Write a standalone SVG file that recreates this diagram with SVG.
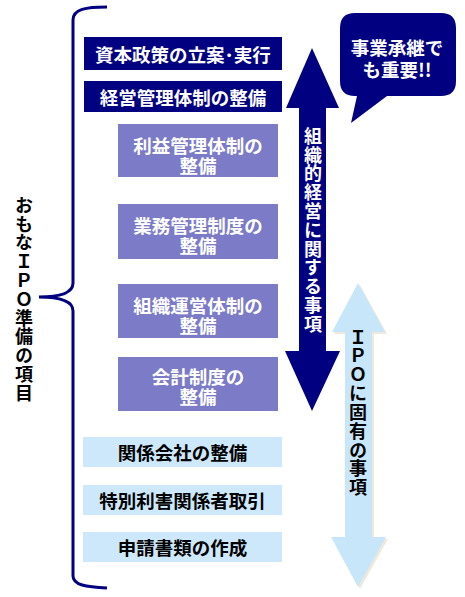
<svg xmlns="http://www.w3.org/2000/svg" width="465" height="597" viewBox="0 0 465 597">
<style>
.t{font-family:"Noto Sans CJK JP","Noto Sans CJK SC",sans-serif;font-weight:bold;font-size:18.5px;text-anchor:middle;dominant-baseline:central}
.w{fill:#ffffff}
.k{fill:#000000}
.navy{fill:#000080}
.purple{fill:#7b7bc8}
.light{fill:#cce8fa}
.v{font-family:"Noto Sans CJK JP","Noto Sans CJK SC",sans-serif;font-weight:bold;font-size:18px;writing-mode:vertical-rl;text-anchor:start}
</style>
<rect width="465" height="597" fill="#ffffff"/>
<g id="bracket">
<path d="M107,7 C86,7 73,9 73,20 L73,283 C73,293 60,297 39,297 C60,297 73,301 73,311 L73,576 C73,585 86,587 107,588" fill="none" stroke="#000080" stroke-width="3"/>
<text class="v k" x="24" y="196" letter-spacing="0.8">おもなＩＰＯ準備の項目</text>
</g>
<g id="connectors">
<g id="arrow-org">
<polygon class="navy" points="312,48 339,108 326,108 326,351 340,351 312,411 285,351 299,351 299,108 286,108"/>
<text class="v w" x="313" y="127" font-size="18.5" letter-spacing="0.8">組織的経営に関する事項</text>
</g>
<g id="arrow-ipo">
<polygon points="360,285 387,334 374,334 374,539 388,539 360,589 333,539 347,539 347,334 334,334" fill="#efe9dc"/>
<polygon fill="#c8e6fa" points="358,283 385,332 372,332 372,537 386,537 358,587 331,537 345,537 345,332 332,332"/>
<text class="v k" x="358" y="328" font-size="18.5" letter-spacing="0.8">ＩＰＯに固有の事項</text>
</g>
</g>
<g id="node1"><rect class="navy" x="84" y="37" width="198" height="33"/><text class="t w" x="183" y="53.5">資本政策の立案･実行</text></g>
<g id="node2"><rect class="navy" x="84" y="81" width="198" height="31"/><text class="t w" x="183" y="96.5">経営管理体制の整備</text></g>
<g id="node3"><rect class="purple" x="118" y="124" width="160" height="53"/><text class="t w"><tspan x="198" y="145">利益管理体制の</tspan><tspan x="198" y="164.5">整備</tspan></text></g>
<g id="node4"><rect class="purple" x="118" y="204" width="160" height="55"/><text class="t w"><tspan x="198" y="225">業務管理制度の</tspan><tspan x="198" y="244.5">整備</tspan></text></g>
<g id="node5"><rect class="purple" x="118" y="284" width="160" height="54"/><text class="t w"><tspan x="198" y="305">組織運営体制の</tspan><tspan x="198" y="324.5">整備</tspan></text></g>
<g id="node6"><rect class="purple" x="118" y="357" width="160" height="54"/><text class="t w"><tspan x="198" y="376">会計制度の</tspan><tspan x="198" y="395.5">整備</tspan></text></g>
<g id="node7"><rect class="light" x="83" y="437" width="199" height="30"/><text class="t k" x="182.5" y="452">関係会社の整備</text></g>
<g id="node8"><rect class="light" x="83" y="485" width="199" height="30"/><text class="t k" x="182.5" y="500">特別利害関係者取引</text></g>
<g id="node9"><rect class="light" x="83" y="532" width="199" height="30"/><text class="t k" x="182.5" y="547">申請書類の作成</text></g>
<g id="bubble">
<path class="navy" d="M355,13 L441,13 Q456,13 456,28 L456,81 Q456,96 441,96 L387,96 L351,123 L357,96 L355,96 Q340,96 340,81 L340,28 Q340,13 355,13 Z"/>
<text class="t w" font-size="17"><tspan x="397" y="46.5">事業承継で</tspan><tspan x="397" y="68.5">も重要!!</tspan></text>
</g>
</svg>
